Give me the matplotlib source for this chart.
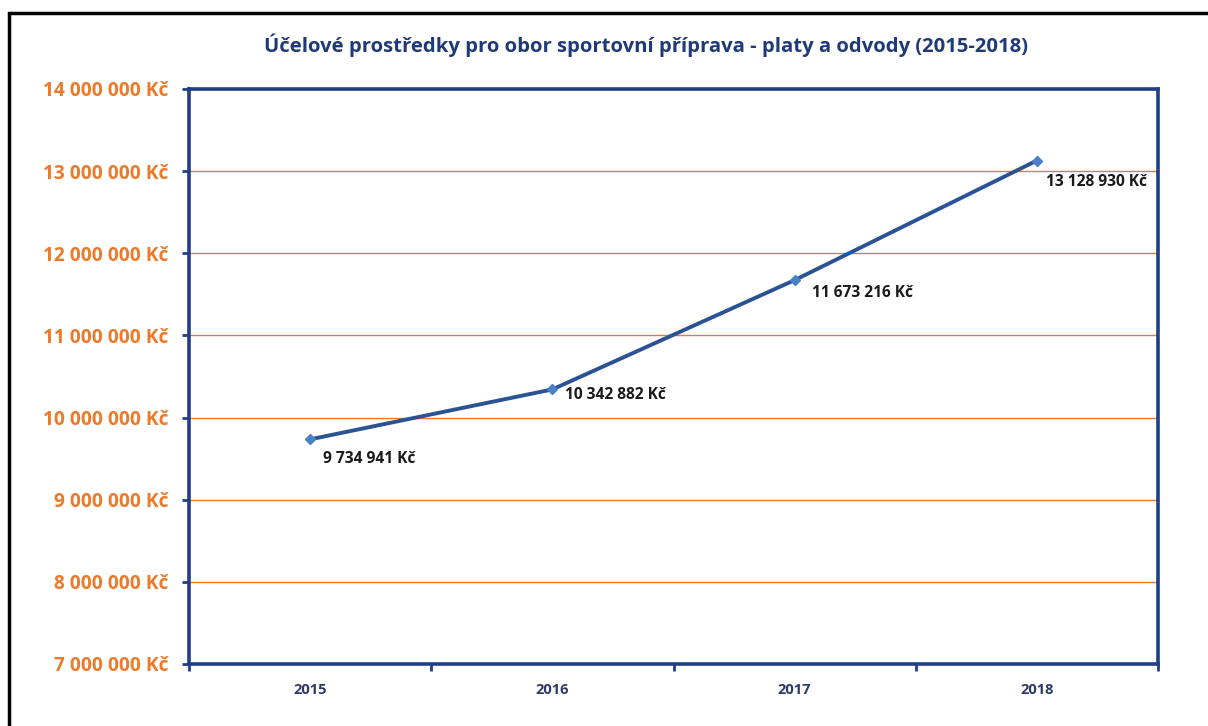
import matplotlib
matplotlib.use("Agg")
import matplotlib.pyplot as plt
from matplotlib.patches import Rectangle
from matplotlib.ticker import FixedLocator, FuncFormatter

years = ["2015", "2016", "2017", "2018"]
values = [9734941, 10342882, 11673216, 13128930]
labels = ["9 734 941 Kč", "10 342 882 Kč", "11 673 216 Kč", "13 128 930 Kč"]
y_ticks = [7000000, 8000000, 9000000, 10000000, 11000000, 12000000, 13000000, 14000000]
title = "Účelové prostředky pro obor sportovní příprava - platy a odvody (2015-2018)"

FONT = ["Open Sans", "DejaVu Sans"]
NAVY = "#213f86"
ORANGE = "#ec7a2a"

fig = plt.figure(figsize=(12.08, 7.26), dpi=100)
ax = fig.add_axes([189/1208, 1-664/726, (1158-189)/1208, (664-89)/726])

x = list(range(len(years)))
ax.plot(x, values, color="#2b5394", lw=2.8, marker="D", markersize=5,
        markerfacecolor="#4a80c8", markeredgecolor="#4a80c8", zorder=3)

offsets = [(13, -20), (13, -6), (17, -13), (9, -21)]
for xi, v, lab, off in zip(x, values, labels, offsets):
    ax.annotate(lab, (xi, v), xytext=off, textcoords="offset pixels",
                ha="left", va="center", fontsize=11.2, fontweight="bold",
                color="#1a1a1a", family=FONT)

ax.set_xlim(-0.5, len(years) - 0.5)
ax.set_ylim(y_ticks[0], y_ticks[-1])
ax.set_yticks(y_ticks)
ax.yaxis.set_major_formatter(FuncFormatter(lambda v, p: f"{int(v):,}".replace(",", " ") + " Kč"))
ax.grid(axis="y", color=ORANGE, lw=1.0)
ax.set_axisbelow(True)

ax.xaxis.set_major_locator(FixedLocator([i - 0.5 for i in range(len(years) + 1)]))
ax.xaxis.set_major_formatter(FuncFormatter(lambda v, p: ""))
ax.xaxis.set_minor_locator(FixedLocator(x))
ax.set_xticklabels(years, minor=True)
ax.tick_params(axis="x", which="major", length=5, width=2, color=NAVY, direction="out")
ax.tick_params(axis="x", which="minor", length=0, pad=14, labelsize=10.5, labelcolor="#2b3a67")
ax.tick_params(axis="y", length=5, width=2, color=NAVY, direction="out", pad=10,
               labelsize=13.8, labelcolor=ORANGE)
for lab in ax.get_yticklabels() + ax.get_xticklabels(minor=True):
    lab.set_fontweight("bold")
    lab.set_family(FONT)

for s in ax.spines.values():
    s.set_color(NAVY)
    s.set_linewidth(2.6)

fig.text(646/1208, 1-45/726, title, ha="center", va="center", fontsize=14.6,
         fontweight="bold", color="#1f3a78", family=FONT)

fig.patches.append(Rectangle((9/1208, -0.1), 1.2, 1.1 - 13/726, transform=fig.transFigure,
                             fill=False, edgecolor="black", lw=2.5, clip_on=False))

fig.savefig("out.png", dpi=100)
